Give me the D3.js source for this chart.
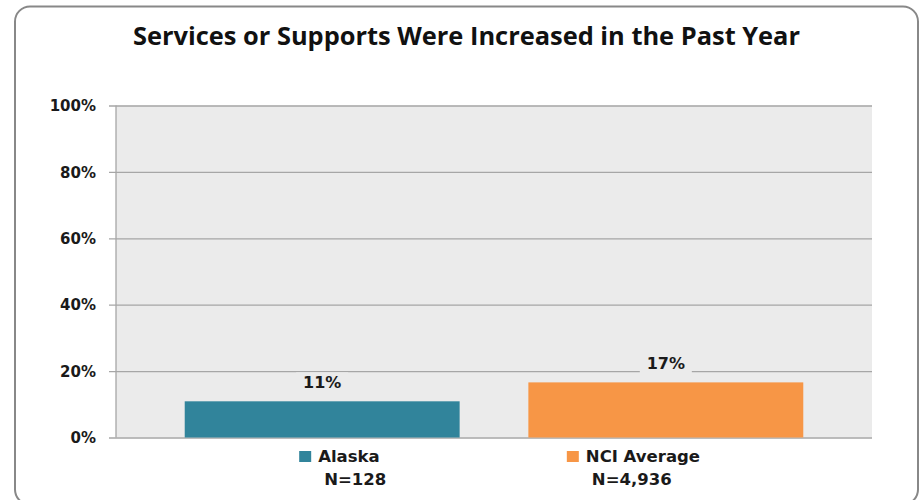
<!DOCTYPE html>
<html>
<head>
<meta charset="utf-8">
<script src="https://cdn.jsdelivr.net/npm/d3@7"></script>
<style>
  html, body { margin: 0; padding: 0; background: #fff; }
  svg { display: block; }
</style>
</head>
<body>
<svg id="chart" width="921" height="500"></svg>
<script>
const title = "Services or Supports Were Increased in the Past Year";
const categories = ["Alaska", "NCI Average"];
const sampleSizes = ["N=128", "N=4,936"];
const values = [10.9, 16.6];
const valueLabels = ["11%", "17%"];
const colors = ["#31849B", "#F79646"];
const yTicks = [0, 20, 40, 60, 80, 100];

const svg = d3.select("#chart");
const plot = { left: 116, right: 872, top: 105.5, bottom: 437.5 };

// outer frame
svg.append("rect")
  .attr("x", 15).attr("y", 6.5)
  .attr("width", 903).attr("height", 498)
  .attr("rx", 15).attr("ry", 15)
  .attr("fill", "#fff")
  .attr("stroke", "#888").attr("stroke-width", 2);

// title
svg.append("text")
  .attr("x", 466.5).attr("y", 45)
  .attr("text-anchor", "middle")
  .attr("font-family", "'Open Sans', sans-serif")
  .attr("font-weight", 700)
  .attr("font-size", 24.5)
  .attr("fill", "#111")
  .attr("textLength", 667)
  .attr("lengthAdjust", "spacingAndGlyphs")
  .text(title);

const x = d3.scaleBand()
  .domain(categories)
  .range([plot.left, plot.right])
  .paddingInner(0.2)
  .paddingOuter(0.2);

const y = d3.scaleLinear()
  .domain([0, 100])
  .range([plot.bottom, plot.top]);

// plot background
svg.append("rect")
  .attr("x", plot.left).attr("y", plot.top)
  .attr("width", plot.right - plot.left)
  .attr("height", plot.bottom - plot.top)
  .attr("fill", "#EBEBEB");

// y axis with gridlines
const yAxis = d3.axisLeft(y)
  .tickValues(yTicks)
  .tickFormat(d => d + "%")
  .tickSize(-(plot.right - plot.left))
  .tickPadding(0);

const gy = svg.append("g")
  .attr("transform", `translate(${plot.left},0)`)
  .call(yAxis);
gy.select(".domain").remove();
gy.selectAll(".tick line")
  .attr("x1", -7)
  .attr("stroke", "#A6A6A6")
  .attr("stroke-width", 1.3);
gy.selectAll(".tick text")
  .attr("x", -20)
  .attr("dy", "0.35em")
  .attr("font-family", "'DejaVu Sans', sans-serif")
  .attr("font-weight", 700)
  .attr("font-size", 15)
  .attr("fill", "#1a1a1a");

// vertical axis line
svg.append("line")
  .attr("x1", plot.left).attr("x2", plot.left)
  .attr("y1", plot.top).attr("y2", plot.bottom)
  .attr("stroke", "#A6A6A6").attr("stroke-width", 1.3);

// bars
svg.append("g").selectAll("rect")
  .data(categories)
  .join("rect")
  .attr("x", d => x(d))
  .attr("y", (d, i) => y(values[i]))
  .attr("width", x.bandwidth())
  .attr("height", (d, i) => y(0) - y(values[i]))
  .attr("fill", (d, i) => colors[i]);

// value labels with background boxes
const lbl = svg.append("g").selectAll("g")
  .data(categories)
  .join("g")
  .attr("transform", (d, i) => `translate(${x(d) + x.bandwidth() / 2},${y(values[i]) - 14})`);
lbl.append("rect")
  .attr("x", -26).attr("y", -15)
  .attr("width", 52).attr("height", 23)
  .attr("fill", "#EBEBEB");
lbl.append("text")
  .attr("text-anchor", "middle")
  .attr("y", 1)
  .attr("font-family", "'DejaVu Sans', sans-serif")
  .attr("font-weight", 700)
  .attr("font-size", 16)
  .attr("fill", "#1a1a1a")
  .text((d, i) => valueLabels[i]);

// legend / category labels
const leg = svg.append("g").selectAll("g")
  .data(categories)
  .join("g")
  .attr("transform", (d, i) => `translate(${x(d) + x.bandwidth() / 2},0)`);
const legOffsets = [-23, -99];
leg.append("rect")
  .attr("x", (d, i) => legOffsets[i])
  .attr("y", 451)
  .attr("width", 12).attr("height", 11)
  .attr("fill", (d, i) => colors[i]);
leg.append("text")
  .attr("x", (d, i) => legOffsets[i] + 19)
  .attr("y", 462)
  .attr("font-family", "'DejaVu Sans', sans-serif")
  .attr("font-weight", 700)
  .attr("font-size", 16.5)
  .attr("fill", "#1a1a1a")
  .text(d => d);
leg.append("text")
  .attr("x", (d, i) => legOffsets[i] + 25)
  .attr("y", 485)
  .attr("font-family", "'DejaVu Sans', sans-serif")
  .attr("font-weight", 700)
  .attr("font-size", 16.5)
  .attr("fill", "#1a1a1a")
  .text((d, i) => sampleSizes[i]);
</script>
</body>
</html>
